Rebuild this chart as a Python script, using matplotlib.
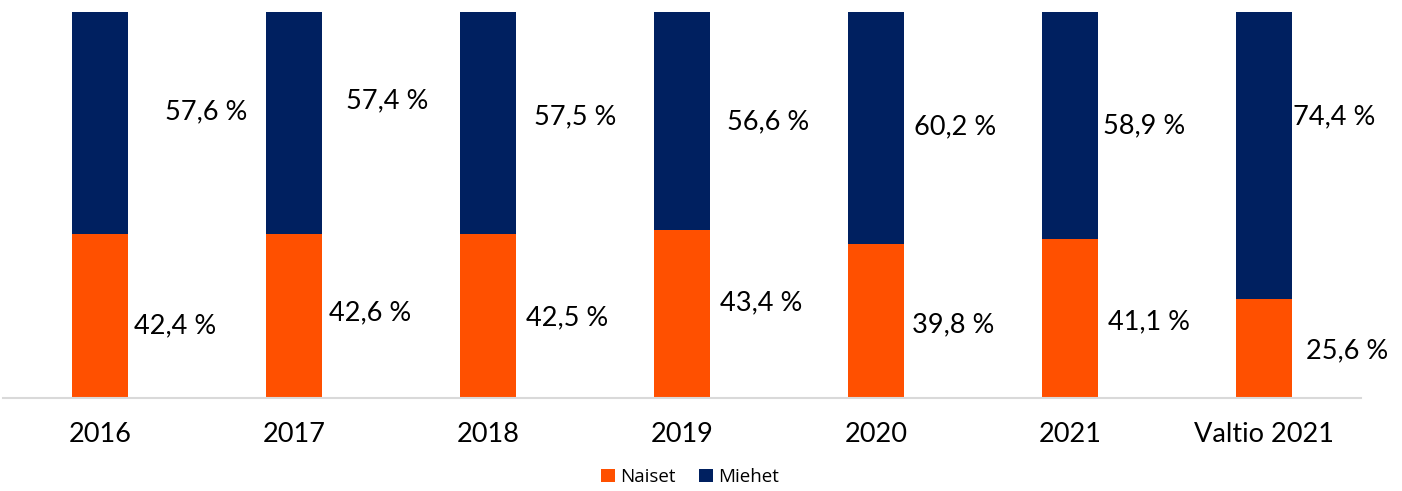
import numpy as np
import matplotlib.pyplot as plt

categories = ['2016', '2017', '2018', '2019', '2020', '2021', 'Valtio 2021']
naiset = [42.4, 42.6, 42.5, 43.4, 39.8, 41.1, 25.6]
miehet = [57.6, 57.4, 57.5, 56.6, 60.2, 58.9, 74.4]

# label nudges in pixels (hand placed in the original), down / right positive
naiset_dy = [10, -3, 2, -11, 4, 3, 2]
miehet_dy = [-11, -22, -6, 1, -1, 0, -39]
naiset_dx = [-3, -2, 1, 1, -1, 1, 5]
miehet_dx = [28, 15, 9, 8, 1, -4, -8]

orange = '#FF5000'
navy = '#002060'

fig = plt.figure(figsize=(14.02, 4.91), dpi=100)
ax = fig.add_axes([3 / 1402, 93 / 491, 1358 / 1402, 386 / 491])

x = np.arange(len(categories))
w = 0.29
ax.bar(x, naiset, w, color=orange, label='Naiset')
ax.bar(x, miehet, w, bottom=naiset, color=navy, label='Miehet')

ax.set_xlim(-0.5, len(categories) - 0.5)
ax.set_ylim(0, 100)

px = 100 / 386  # data units per pixel (y)
cx = 1 / 194    # data units per pixel (x)
for i in range(len(categories)):
    n = naiset[i]
    m = miehet[i]
    ax.text(x[i] + (78 + naiset_dx[i]) * cx, n / 2 - naiset_dy[i] * px,
            f'{n:.1f} %'.replace('.', ','), ha='center', va='center',
            fontsize=19.5, family='Lato')
    ax.text(x[i] + (78 + miehet_dx[i]) * cx, n + m / 2 - miehet_dy[i] * px,
            f'{m:.1f} %'.replace('.', ','), ha='center', va='center',
            fontsize=19.5, family='Lato')

ax.set_xticks(x)
ax.set_xticklabels(categories, fontsize=19.5, family='Lato')
ax.tick_params(axis='x', length=0, pad=17)
ax.set_yticks([])
for s in ['top', 'right', 'left']:
    ax.spines[s].set_visible(False)
ax.spines['bottom'].set_color('#D9D9D9')
ax.spines['bottom'].set_linewidth(1.5)

fig.legend(loc='center', bbox_to_anchor=(690 / 1402, 1 - 477 / 491),
           ncol=2, frameon=False, prop={'family': 'Open Sans', 'size': 13.5},
           handlelength=0.75, handleheight=0.75, handletextpad=0.3,
           columnspacing=1.2)

fig.savefig('out.png', dpi=100)
